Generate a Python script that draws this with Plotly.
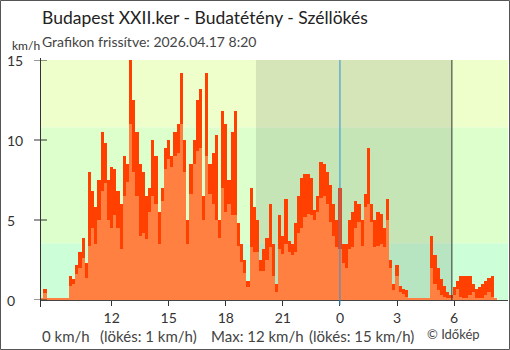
import pandas as pd
import plotly.graph_objects as go

# ---- data (10-minute samples, km/h) ----
start_time = "2026-04-16 08:20"
gust = [0.1, 0.7, 0.1, 0.1, 0.1, 0.1, 0.1, 0.1, 0.1, 1.5,
        1.3, 2.2, 3.0, 3.9, 2.3, 8.0, 6.8, 5.8, 7.5, 10.5,
        9.8, 7.5, 8.3, 8.2, 6.8, 6.0, 9.0, 8.5, 15.0, 12.5,
        10.5, 8.5, 8.0, 6.5, 7.0, 10.0, 9.0, 5.5, 7.0, 9.5,
        10.0, 9.0, 10.5, 11.0, 14.2, 10.0, 5.0, 8.5, 10.0, 12.5,
        13.2, 6.5, 14.2, 8.5, 9.2, 10.3, 5.0, 11.8, 11.0, 7.5,
        10.5, 11.8, 4.8, 3.5, 2.5, 1.2, 7.0, 5.8, 5.0, 2.5,
        3.2, 3.9, 6.0, 3.5, 1.0, 5.3, 4.0, 6.3, 3.7, 3.5,
        4.8, 6.5, 7.6, 7.9, 7.9, 7.6, 5.6, 6.5, 8.6, 8.5,
        8.0, 7.2, 6.0, 5.0, 7.0, 3.5, 3.5, 5.0, 5.5, 6.2,
        6.0, 5.0, 6.6, 9.5, 6.0, 5.0, 5.5, 5.4, 4.5, 6.3,
        2.5, 1.0, 2.2, 0.9, 0.7, 0.6, 0.1, 0.1, 0.1, 0.1,
        0.1, 0.1, 0.1, 4.0, 2.8, 2.0, 1.3, 0.9, 0.5, 0.3,
        0.8, 1.2, 1.5, 1.5, 1.5, 1.5, 1.0, 0.7, 0.8, 1.0,
        1.2, 1.4, 1.5, 0.1]
avg = [0.1, 0.45, 0.1, 0.1, 0.1, 0.1, 0.1, 0.1, 0.1, 0.9,
       1.0, 1.6, 2.0, 2.6, 1.4, 3.4, 4.5, 3.5, 5.0, 6.8,
       7.3, 5.0, 4.5, 5.3, 4.5, 3.2, 6.5, 7.4, 11.0, 8.0,
       6.5, 4.0, 4.2, 3.8, 5.5, 6.5, 6.0, 3.5, 6.2, 8.2,
       8.8, 8.3, 9.0, 9.2, 11.0, 8.0, 3.5, 6.6, 8.5, 9.3,
       9.5, 5.0, 9.0, 6.6, 6.0, 5.0, 3.9, 7.0, 5.5, 6.0,
       5.3, 5.3, 3.4, 2.4, 1.7, 0.8, 3.3, 3.0, 3.0, 1.8,
       1.8, 2.5, 3.3, 1.5, 0.5, 3.2, 2.9, 3.5, 3.0, 2.8,
       3.0, 4.2, 4.5, 5.2, 5.4, 5.3, 5.0, 5.5, 6.4, 6.5,
       6.0, 4.9, 4.0, 3.3, 3.2, 2.3, 2.0, 3.2, 3.3, 4.5,
       4.9, 3.4, 5.8, 6.0, 4.9, 3.3, 3.4, 3.5, 3.3, 5.0,
       2.0, 0.6, 1.5, 0.5, 0.4, 0.2, 0.1, 0.1, 0.1, 0.1,
       0.1, 0.1, 0.1, 2.0, 1.0, 0.6, 0.3, 0.2, 0.1, 0.1,
       0.3, 0.7, 0.2, 0.1, 0.1, 0.3, 0.5, 0.1, 0.1, 0.1,
       0.3, 0.5, 0.2, 0.1]
band_limits = [0, 3.55, 10.8, 15]
band_colors = ["#ccffd8", "#ddffcc", "#eeffcc"]
sunset = "2026-04-16 19:35"
sunrise = "2026-04-17 05:53"
midnight = "2026-04-17 00:00"
x_range = ["2026-04-16 08:14", "2026-04-17 08:50"]
x_tickvals = ["2026-04-16 12:00", "2026-04-16 15:00", "2026-04-16 18:00", "2026-04-16 21:00",
              "2026-04-17 00:00", "2026-04-17 03:00", "2026-04-17 06:00"]
x_ticktext = ["12", "15", "18", "21", "0", "3", "6"]
y_ticks = [0, 5, 10, 15]

times = pd.date_range(start=start_time, periods=len(gust), freq="10min")

W, H = 510, 350
L, R, T, B = 40, 2, 60, 50
PW, PH = W - L - R, H - T - B


def px(x):
    return (x - L) / PW


def py(y):
    return (H - B - y) / PH


fig = go.Figure()
fig.add_trace(go.Bar(x=times, y=gust, marker=dict(color="#ff4000", line=dict(width=0)),
                     name="lökés", hoverinfo="x+y"))
fig.add_trace(go.Bar(x=times, y=avg, marker=dict(color="#ff8040", line=dict(width=0)),
                     name="átlag", hoverinfo="x+y"))

shapes = []
for i, c in enumerate(band_colors):
    shapes.append(dict(type="rect", xref="paper", yref="y", x0=0, x1=1,
                       y0=band_limits[i], y1=band_limits[i + 1],
                       fillcolor=c, line=dict(width=0), layer="below"))
shapes.append(dict(type="rect", xref="x", yref="paper", x0=sunset, x1=sunrise, y0=0, y1=1,
                   fillcolor="rgba(0,0,0,0.1)", line=dict(width=0), layer="below"))
shapes.append(dict(type="line", xref="x", yref="paper", x0=midnight, x1=midnight, y0=py(305), y1=1,
                   line=dict(color="#2b93e0", width=1)))
shapes.append(dict(type="line", xref="x", yref="paper", x0=sunrise, x1=sunrise, y0=0, y1=1,
                   line=dict(color="#333333", width=1)))
for v in y_ticks:
    shapes.append(dict(type="line", xref="paper", yref="y", x0=px(34), x1=px(47), y0=v, y1=v,
                       line=dict(color="#333333", width=1)))
# y axis line extension below axis
shapes.append(dict(type="line", xref="paper", yref="paper", x0=px(40.5), x1=px(40.5),
                   y0=py(307), y1=py(58), line=dict(color="#333333", width=1)))
# outer frame
shapes.append(dict(type="rect", xref="paper", yref="paper", x0=px(0.5), x1=px(509.5),
                   y0=py(349.5), y1=py(0.5), line=dict(color="#555555", width=1),
                   fillcolor="rgba(0,0,0,0)"))

FONT = "Lato, Noto Sans, sans-serif"
ann = []
ann.append(dict(text="Budapest XXII.ker - Budatétény - Széllökés", x=px(40), y=py(18),
                xref="paper", yref="paper", xanchor="left", yanchor="middle", showarrow=False,
                font=dict(family=FONT, size=17.5, color="#222222")))
ann.append(dict(text="Grafikon frissítve: 2026.04.17 8:20", x=px(40), y=py(41),
                xref="paper", yref="paper", xanchor="left", yanchor="middle", showarrow=False,
                font=dict(family=FONT, size=14, color="#444444")))
ann.append(dict(text="km/h", x=px(11), y=py(45.5), xref="paper", yref="paper", xanchor="left",
                yanchor="middle", showarrow=False, borderpad=0,
                font=dict(family=FONT, size=12, color="#333333")))
for v in y_ticks:
    ann.append(dict(text=str(v), x=px(6), y=v, xref="paper", yref="y", xanchor="left",
                    yanchor="middle", showarrow=False, borderpad=0,
                    font=dict(family=FONT, size=14, color="#333333")))
bottom = [("0 km/h", 40), ("(lökés: 1 km/h)", 98), ("Max: 12 km/h", 209), ("(lökés: 15 km/h)", 307)]
for txt, xx in bottom:
    ann.append(dict(text=txt, x=px(xx), y=py(336), xref="paper", yref="paper", xanchor="left",
                    yanchor="middle", showarrow=False, font=dict(family=FONT, size=15, color="#444444")))
ann.append(dict(text="© Időkép", x=px(425), y=py(334), xref="paper", yref="paper", xanchor="left",
                yanchor="middle", showarrow=False, font=dict(family=FONT, size=13, color="#444444")))

fig.update_layout(
    width=W, height=H, margin=dict(l=L, r=R, t=T, b=B),
    paper_bgcolor="white", plot_bgcolor="white",
    barmode="overlay", bargap=0, showlegend=False,
    shapes=shapes, annotations=ann,
    xaxis=dict(type="date", range=x_range, tickmode="array", tickvals=x_tickvals,
               ticktext=x_ticktext, ticks="outside", ticklen=5, tickcolor="#333333",
               showline=True, linecolor="#444444", showgrid=False, zeroline=False,
               tickfont=dict(family=FONT, size=14, color="#333333")),
    yaxis=dict(range=[0, 15], showticklabels=False, ticks="", showgrid=False, zeroline=False,
               showline=False, fixedrange=True),
)

fig.write_html("out.html")
